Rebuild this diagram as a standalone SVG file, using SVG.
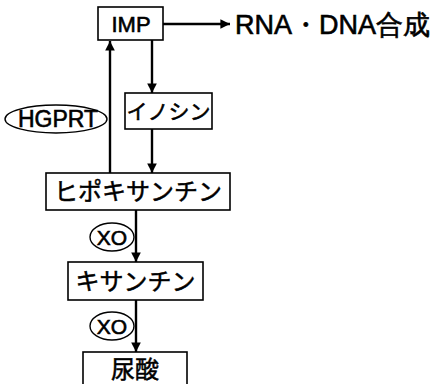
<svg xmlns="http://www.w3.org/2000/svg" width="436" height="384" viewBox="0 0 436 384">
<style>
.box{fill:#fff;stroke:#000;stroke-width:1.6}
.ell{fill:#fff;stroke:#000;stroke-width:1.4}
.ln{stroke:#000;stroke-width:2.4;fill:none}
.lat{font-family:"Liberation Sans",Arial,sans-serif;fill:#000;stroke:#000;stroke-width:0.6}
.jp{font-family:"Noto Sans CJK JP",sans-serif;fill:#000;stroke:#000;stroke-width:0.5}
</style>
<defs>
<marker id="ah" viewBox="0 0 10 10" refX="10" refY="5" markerWidth="4" markerHeight="4" orient="auto" markerUnits="strokeWidth">
<path d="M0,0 L10,5 L0,10 Z" fill="#000"/>
</marker>
</defs>
<g id="connectors">
<line class="ln" x1="163" y1="24" x2="230" y2="24" stroke-width="2" marker-end="url(#ah)"/>
<line class="ln" x1="110" y1="173" x2="110" y2="41" marker-end="url(#ah)"/>
<line class="ln" x1="152" y1="40" x2="152" y2="93" marker-end="url(#ah)"/>
<line class="ln" x1="152" y1="129" x2="152" y2="173" marker-end="url(#ah)"/>
<line class="ln" x1="136" y1="210" x2="136" y2="262" marker-end="url(#ah)"/>
<line class="ln" x1="136" y1="300" x2="136" y2="352" marker-end="url(#ah)"/>
</g>
<g id="imp">
<rect class="box" x="98" y="7" width="65" height="33"/>
<text class="lat" x="131" y="31.5" font-size="22" text-anchor="middle">IMP</text>
</g>
<g id="rnadna">
<text class="lat" x="235" y="34" font-size="27" font-family="'Liberation Sans','Noto Sans CJK JP',sans-serif">RNA・DNA合成</text>
</g>
<g id="inosine">
<rect class="box" x="125" y="93" width="87" height="36"/>
<text class="jp" x="168.5" y="119" font-size="21" text-anchor="middle">イノシン</text>
</g>
<g id="hgprt">
<ellipse class="ell" cx="56" cy="119" rx="51" ry="14"/>
<text class="lat" x="58" y="127" font-size="23" text-anchor="middle">HGPRT</text>
</g>
<g id="hypoxanthine">
<rect class="box" x="46" y="173" width="184" height="37"/>
<text class="jp" x="138" y="200" font-size="24" text-anchor="middle">ヒポキサンチン</text>
</g>
<g id="xo1">
<ellipse class="ell" cx="112" cy="237" rx="22" ry="14"/>
<text class="lat" x="112" y="244.5" font-size="21" text-anchor="middle">XO</text>
</g>
<g id="xanthine">
<rect class="box" x="68" y="262" width="135" height="38"/>
<text class="jp" x="135.5" y="290" font-size="24" text-anchor="middle">キサンチン</text>
</g>
<g id="xo2">
<ellipse class="ell" cx="112" cy="326" rx="22" ry="14"/>
<text class="lat" x="112" y="333.5" font-size="21" text-anchor="middle">XO</text>
</g>
<g id="uricacid">
<rect class="box" x="83" y="352" width="104" height="40"/>
<text class="jp" x="135" y="378" font-size="24" text-anchor="middle">尿酸</text>
</g>
</svg>
